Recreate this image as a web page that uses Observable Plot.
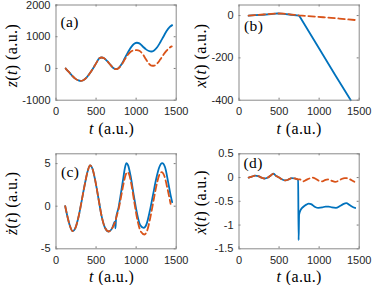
<!DOCTYPE html>
<html><head><meta charset="utf-8">
<script src="https://cdn.jsdelivr.net/npm/d3@7"></script>
<script src="https://cdn.jsdelivr.net/npm/@observablehq/plot@0.6"></script>
<style>
body{margin:0;background:#fff;}
#fig{position:relative;width:374px;height:285px;overflow:hidden;background:#fff;}
#fig svg{position:absolute;}
#fig text.lbl{font-family:"Liberation Serif","Times New Roman",serif !important;letter-spacing:0.4px;}
</style></head><body><div id="fig"></div>
<script>
// ---- data ----
const xTicks = [0, 500, 1000, 1500];
const xLabel = "t (a.u.)";

// (a) z(t)
const yTicksA = [-1000, 0, 1000, 2000];
const tBlueA = [120,160,200,240,280,310,340,380,420,460,500,540,570,600,640,680,720,750,780,820,860,900,940,980,1010,1040,1080,1120,1160,1190,1220,1260,1300,1340,1380,1420,1450];
const zBlueA = [0,-110,-225,-320,-375,-390,-370,-290,-160,-10,160,320,345,320,230,110,5,-22,10,140,330,520,680,785,810,790,700,610,550,535,560,660,820,1000,1180,1310,1366];
const tOrangeA = [120,160,200,240,280,310,340,380,420,460,500,540,570,600,640,680,720,750,780,820,860,900,940,980,1010,1040,1080,1120,1160,1190,1220,1260,1300,1340,1380,1420,1445];
const zOrangeA = [0,-110,-225,-320,-375,-390,-370,-290,-160,-10,160,320,345,320,230,110,5,-22,10,125,290,440,540,575,580,560,460,300,150,90,85,150,280,430,560,660,695];

// (b) x(t)
const yTicksB = [-400, -200, 0];
const tBlueB = [120,200,300,400,480,560,650,750,1000,1200,1395];
const xBlueB = [0,2,4,7,10,8,4,0,-156,-281,-400];
const tOrangeB = [120,200,300,400,480,560,650,750,850,950,1050,1150,1250,1350,1445];
const xOrangeB = [0,2,5,8,10,9,5,1,-2,-5,-8,-11,-14,-18,-21];

// (c) z-dot(t)
const yTicksC = [-5, 0, 5];
const tBlueC = [115,140,170,208,240,280,320,360,395,425,455,490,530,570,610,658,700,735,742,750,780,810,840,860,880,900,930,970,1010,1050,1095,1130,1170,1210,1250,1290,1325,1360,1400,1430,1450];
const vBlueC = [0,-1.1,-2.2,-2.93,-2.6,-1.3,0.6,2.6,4.1,4.78,4.4,3.0,0.9,-1.2,-2.5,-2.97,-2.6,-1.8,-2.6,-1.4,-0.2,1.5,3.3,4.5,5.05,4.8,3.6,1.3,-0.8,-2.2,-2.54,-2.1,-0.6,1.3,3.2,4.6,5.05,4.6,2.8,1.3,0.47];
const tOrangeC = [115,140,170,208,240,280,320,360,395,425,455,490,530,570,610,658,700,735,750,780,810,840,870,890,910,940,980,1020,1060,1105,1140,1180,1220,1260,1295,1320,1350,1390,1430];
const vOrangeC = [0,-1.1,-2.2,-2.93,-2.6,-1.3,0.6,2.6,4.1,4.78,4.4,3.0,0.9,-1.2,-2.5,-2.97,-2.6,-1.9,-1.4,-0.4,1.0,2.5,3.7,4.0,3.8,2.6,0.3,-1.8,-3.0,-3.32,-2.8,-1.2,0.8,2.7,3.8,4.0,3.6,2.1,0.28];

// (d) x-dot(t)
const yTicksD = [-1.5, -1, -0.5, 0, 0.5];
const tBlueD = [120,160,200,240,280,320,360,400,430,460,500,540,580,620,660,700,738,744,750,770,800,840,870,900,950,990,1040,1080,1120,1160,1210,1260,1300,1340,1380,1420,1450];
const vBlueD = [0,0.02,0.04,0.03,0,-0.02,0,0.05,0.08,0.04,0,-0.04,-0.06,-0.04,-0.01,-0.02,-0.05,-1.32,-0.78,-0.68,-0.62,-0.57,-0.55,-0.56,-0.62,-0.64,-0.63,-0.61,-0.61,-0.63,-0.64,-0.6,-0.56,-0.54,-0.58,-0.62,-0.64];
const tOrangeD = [120,160,200,240,280,320,360,400,430,460,500,540,580,620,660,700,740,760,800,840,880,920,960,1000,1040,1080,1120,1160,1200,1240,1280,1320,1360,1400,1440];
const vOrangeD = [0,0.02,0.04,0.03,0,-0.02,0,0.05,0.08,0.04,0,-0.04,-0.06,-0.04,-0.01,-0.02,-0.04,-0.04,-0.08,-0.05,-0.02,0,-0.03,-0.07,-0.08,-0.05,-0.04,-0.07,-0.09,-0.07,-0.03,-0.01,-0.02,-0.05,-0.09];

// ---- drawing ----
const BLUE = "#0072BD", ORANGE = "#D95319";
const zip = (ts, vs) => ts.map((t, i) => ({t, v: vs[i]}));

const panels = [
  {pos: [0, 0], size: [187, 142], m: {l: 55.5, r: 11.3, t: 4.5, b: 42.3}, yDomain: [-1000, 2000], yTicks: yTicksA, curve: "monotone-x",
   blue: zip(tBlueA, zBlueA), orange: zip(tOrangeA, zOrangeA), yLabel: "z(t) (a.u.)", yl: [-44, 3], xl: [-4.5, 28.3], tag: "(a)", tg: [4.5, 17.2]},
  {pos: [187, 0], size: [187, 142], m: {l: 51.5, r: 15.3, t: 4.5, b: 42.3}, yDomain: [-400, 50], yTicks: yTicksB, curve: "linear",
   blue: zip(tBlueB, xBlueB), orange: zip(tOrangeB, xOrangeB), yLabel: "x(t) (a.u.)", yl: [-38.5, 3], xl: [0, 28.3], tag: "(b)", tg: [5, 21]},
  {pos: [0, 142], size: [187, 143], m: {l: 55.5, r: 11.3, t: 11.3, b: 36.7}, yDomain: [-5, 6.15], yTicks: yTicksC, curve: "monotone-x",
   blue: zip(tBlueC, vBlueC), orange: zip(tOrangeC, vOrangeC), yLabel: "ż(t) (a.u.)", yl: [-44.3, 2], xl: [-4.5, 28.4], tag: "(c)", tg: [5, 18.4]},
  {pos: [187, 142], size: [187, 143], m: {l: 51.5, r: 15.3, t: 11.3, b: 36.7}, yDomain: [-1.5, 0.5], yTicks: yTicksD, curve: "monotone-x",
   blue: zip(tBlueD, vBlueD), orange: zip(tOrangeD, vOrangeD), yLabel: "ẋ(t) (a.u.)", yl: [-38.5, 1], xl: [0, 28.4], tag: "(d)", tg: [4.5, 9.2]}
];

const fig = document.getElementById("fig");

for (const p of panels) {
  const [w, h] = p.size;
  const fw = w - p.m.l - p.m.r, fh = h - p.m.t - p.m.b;
  const chart = Plot.plot({
    width: w, height: h,
    marginLeft: p.m.l, marginRight: p.m.r, marginTop: p.m.t, marginBottom: p.m.b,
    x: {domain: [0, 1500]},
    y: {domain: p.yDomain},
    style: {fontFamily: "'Liberation Sans', Arial, sans-serif", fontSize: "11px", color: "#262626", background: "transparent", overflow: "visible"},
    marks: [
      Plot.axisX({ticks: xTicks, anchor: "bottom", tickSize: 0, tickPadding: 7, tickFormat: d => String(d), label: null}),
      Plot.axisY({ticks: p.yTicks, anchor: "left", tickSize: 0, tickPadding: 5.5, tickFormat: d => String(d), label: null}),
      Plot.tickX(xTicks, {x: d => d, insetTop: fh - 2, stroke: "#444", strokeWidth: 0.7}),
      Plot.tickX(xTicks, {x: d => d, insetBottom: fh - 2, stroke: "#444", strokeWidth: 0.7}),
      Plot.tickY(p.yTicks, {y: d => d, insetRight: fw - 2, stroke: "#444", strokeWidth: 0.7}),
      Plot.tickY(p.yTicks, {y: d => d, insetLeft: fw - 2, stroke: "#444", strokeWidth: 0.7}),
      Plot.line(p.blue, {x: "t", y: "v", stroke: BLUE, strokeWidth: 1.8, curve: p.curve}),
      Plot.line(p.orange, {x: "t", y: "v", stroke: ORANGE, strokeWidth: 1.8, strokeDasharray: "6.5,3.5", curve: p.curve}),
      Plot.frame({stroke: "#8a8a8a", strokeWidth: 1}),
      Plot.text([p.tag], {frameAnchor: "top-left", dx: p.tg[0], dy: p.tg[1], textAnchor: "start", lineAnchor: "middle", fontSize: 15.5, fill: "#000"}),
      Plot.text([xLabel], {frameAnchor: "bottom", dx: p.xl[0], dy: p.xl[1], textAnchor: "middle", lineAnchor: "middle", fontSize: 16, fill: "#000"}),
      Plot.text([p.yLabel], {frameAnchor: "left", dx: p.yl[0], dy: p.yl[1], rotate: -90, textAnchor: "middle", lineAnchor: "middle", fontSize: 16, fill: "#000"})
    ]
  });
  chart.style.left = p.pos[0] + "px";
  chart.style.top = p.pos[1] + "px";
  // serif labels, italic math symbols
  d3.select(chart).selectAll("text").each(function() {
    const s = this.textContent;
    const el = d3.select(this);
    if (s === p.tag) {
      el.attr("class", "lbl");
    } else if (s === xLabel || s === p.yLabel) {
      el.attr("class", "lbl");
      const sym = s.split("(")[0];
      el.text(null);
      if (s === p.yLabel) {
        el.append("tspan").attr("font-style", "italic").text(sym);
        el.append("tspan").text("(");
        el.append("tspan").attr("font-style", "italic").text("t");
        el.append("tspan").text(") (a.u.)");
      } else {
        el.append("tspan").attr("font-style", "italic").text("t");
        el.append("tspan").text(" (a.u.)");
      }
    }
  });
  fig.appendChild(chart);
}
</script>
</body></html>
